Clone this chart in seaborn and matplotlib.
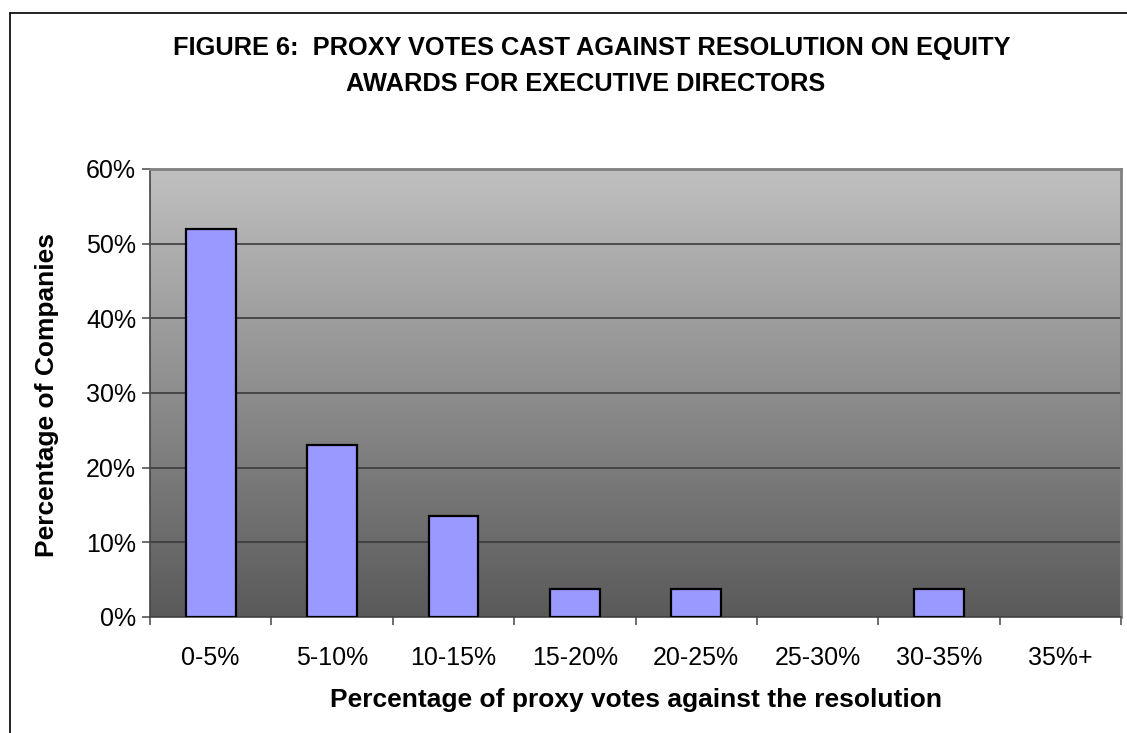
import numpy as np
import pandas as pd
import matplotlib
matplotlib.use("Agg")
import matplotlib.pyplot as plt
from matplotlib.lines import Line2D
from matplotlib.colors import LinearSegmentedColormap
import seaborn as sns

# Distribution of dissenting proxy votes
vote_bands = ["0-5%", "5-10%", "10-15%", "15-20%", "20-25%", "25-30%", "30-35%", "35%+"]
pct_companies = [51.9, 23.1, 13.5, 3.8, 3.8, 0.0, 3.8, 0.0]
y_ticks = [0, 10, 20, 30, 40, 50, 60]
y_tick_labels = ["0%", "10%", "20%", "30%", "40%", "50%", "60%"]

sns.set_theme(style="white")
plt.rcParams["font.family"] = ["Liberation Sans", "DejaVu Sans"]
plt.rcParams["text.color"] = "black"
plt.rcParams["axes.labelcolor"] = "black"
plt.rcParams["xtick.color"] = "black"
plt.rcParams["ytick.color"] = "black"

W, H = 1127, 733
fig = plt.figure(figsize=(W / 100, H / 100), dpi=100)
fig.patch.set_facecolor("white")

ax = fig.add_axes([150 / W, 1 - 617 / H, 971 / W, 448 / H])

# Vertical grey gradient behind the plot
grad = np.linspace(0, 1, 256).reshape(-1, 1)
cmap = LinearSegmentedColormap.from_list("bg", ["#c0c0c0", "#5a5a5a"])
ax.imshow(grad, extent=[0, 1, 0, 1], transform=ax.transAxes, aspect="auto",
          cmap=cmap, zorder=0, origin="upper")

df = pd.DataFrame({"band": vote_bands, "pct": pct_companies})
sns.barplot(data=df, x="band", y="pct", order=vote_bands, color="#9999ff",
            saturation=1, edgecolor="black", linewidth=1.6, width=0.41,
            ax=ax, zorder=3)

# Empty bands carry no visible bar
for patch in ax.patches:
    if patch.get_height() == 0:
        patch.set_visible(False)

ax.set_xlim(-0.5, len(vote_bands) - 0.5)
ax.set_ylim(0, 60)
ax.set_yticks(y_ticks)
ax.set_yticklabels(y_tick_labels, fontsize=18)
ax.yaxis.grid(True, color="#3a3a3a", linewidth=1.2, zorder=1)
ax.set_axisbelow(True)

ax.set_xticks(range(len(vote_bands)))
ax.set_xticklabels(vote_bands, fontsize=18)
ax.set_xticks(np.arange(-0.5, len(vote_bands), 1), minor=True)
ax.tick_params(axis="x", which="major", bottom=True, length=0, pad=21)
ax.tick_params(axis="x", which="minor", bottom=True, length=6, width=1.2,
               color="#555555", direction="out")
ax.tick_params(axis="y", which="major", left=True, length=6, width=1.2,
               color="#555555", direction="out", pad=4)

for side in ["left", "bottom"]:
    ax.spines[side].set_visible(True)
    ax.spines[side].set_color("#444444")
    ax.spines[side].set_linewidth(1.2)
for side in ["top", "right"]:
    ax.spines[side].set_visible(True)
    ax.spines[side].set_color("#808080")
    ax.spines[side].set_linewidth(2)

ax.set_xlabel("Percentage of proxy votes against the resolution",
              fontsize=19, fontweight="bold")
ax.set_ylabel("Percentage of Companies", fontsize=19, fontweight="bold")
ax.xaxis.set_label_coords((636 - 150) / 971, -(700 - 617) / 448)
ax.yaxis.set_label_coords(-(150 - 47) / 971, (617 - 395) / 448)
ax.xaxis.label.set_va("center")
ax.yaxis.label.set_va("center")

fig.text(592 / W, 1 - 48 / H, "FIGURE 6:  PROXY VOTES CAST AGAINST RESOLUTION ON EQUITY",
         ha="center", va="center", fontsize=18.3, fontweight="bold", color="black")
fig.text(586 / W, 1 - 84 / H, "AWARDS FOR EXECUTIVE DIRECTORS",
         ha="center", va="center", fontsize=18.3, fontweight="bold", color="black")

# Chart frame (left and top edges)
fig.add_artist(Line2D([10 / W, 10 / W], [0, 1 - 13 / H], color="black", linewidth=1.2))
fig.add_artist(Line2D([10 / W, 1], [1 - 13 / H, 1 - 13 / H], color="black", linewidth=1.2))

fig.savefig("out.png", dpi=100, facecolor="white")
